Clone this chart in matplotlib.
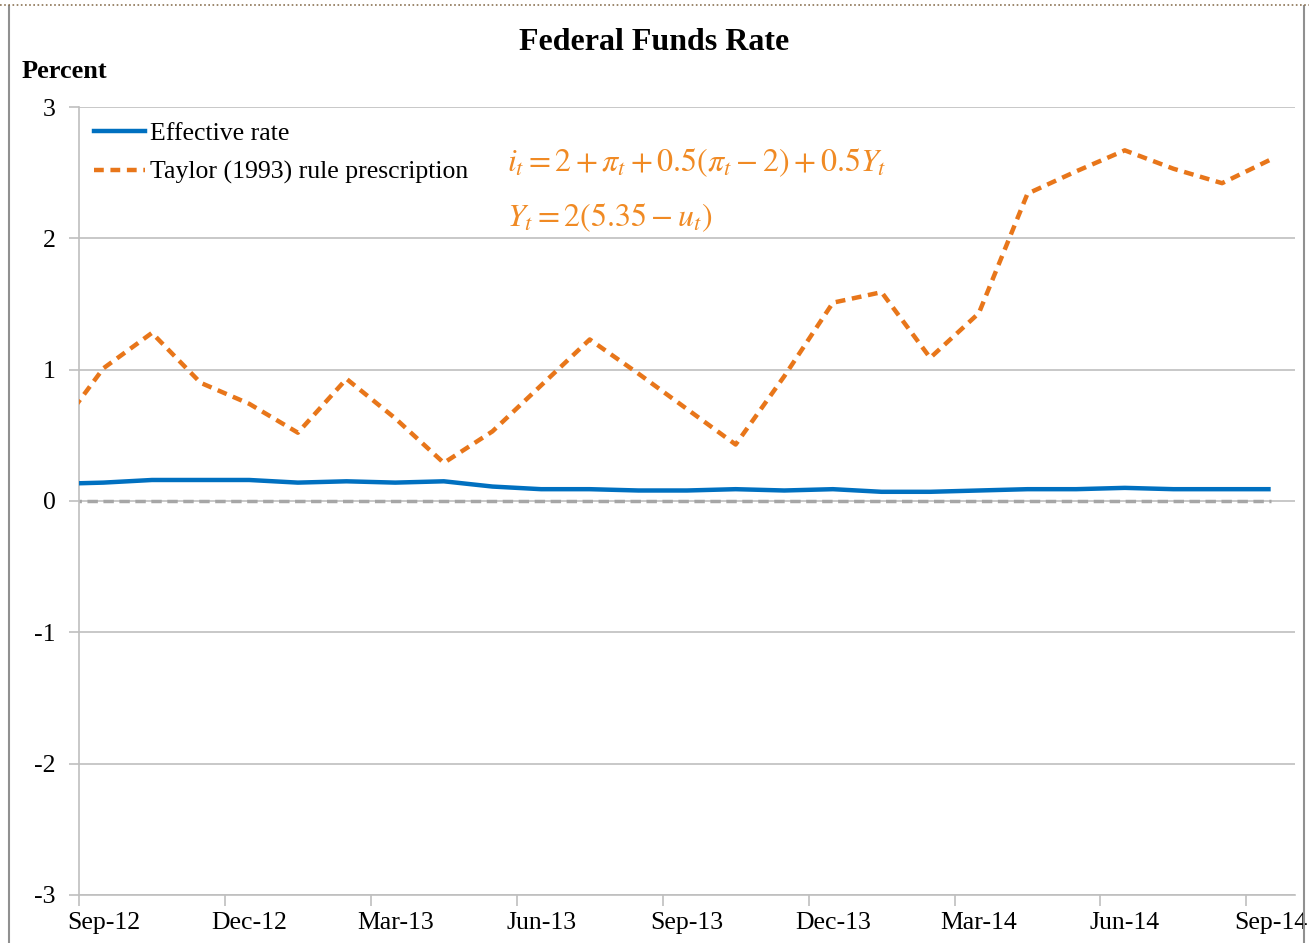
import matplotlib

matplotlib.use("Agg")
import matplotlib.pyplot as plt
from matplotlib.lines import Line2D
import numpy as np

# monthly data, Aug-12 .. Sep-14 (Aug-12 sits left of the axis and is clipped)
months = ["Aug-12", "Sep-12", "Oct-12", "Nov-12", "Dec-12", "Jan-13", "Feb-13",
          "Mar-13", "Apr-13", "May-13", "Jun-13", "Jul-13", "Aug-13", "Sep-13",
          "Oct-13", "Nov-13", "Dec-13", "Jan-14", "Feb-14", "Mar-14", "Apr-14",
          "May-14", "Jun-14", "Jul-14", "Aug-14", "Sep-14"]
effective = [0.13, 0.14, 0.16, 0.16, 0.16, 0.14, 0.15, 0.14, 0.15, 0.11, 0.09,
             0.09, 0.08, 0.08, 0.09, 0.08, 0.09, 0.07, 0.07, 0.08, 0.09, 0.09,
             0.10, 0.09, 0.09, 0.09]
taylor = [0.51, 1.01, 1.28, 0.90, 0.74, 0.52, 0.93, 0.63, 0.29, 0.53, 0.88,
          1.23, 0.97, 0.70, 0.43, 0.95, 1.51, 1.59, 1.09, 1.43, 2.34, 2.51,
          2.67, 2.53, 2.42, 2.60]
zero_line = [0.0] * len(months)
tick_labels = ["Sep-12", "Dec-12", "Mar-13", "Jun-13", "Sep-13", "Dec-13",
               "Mar-14", "Jun-14", "Sep-14"]

plt.rcParams["font.family"] = ["Liberation Serif", "DejaVu Serif"]
plt.rcParams["mathtext.fontset"] = "stix"

BLUE = "#0070C0"
ORANGE = "#E8761A"
GRID = "#BFBFBF"

fig = plt.figure(figsize=(13.09, 9.43), dpi=100)
ax = fig.add_axes([79 / 1309, 1 - 895 / 943, (1295 - 79) / 1309, (895 - 107) / 943])

x = np.arange(len(months)) - 1  # Sep-12 at 0
ax.plot(x, zero_line, color="#A6A6A6", lw=2.5, ls=(0, (3, 1.6)), zorder=2)
ax.plot(x, effective, color=BLUE, lw=3.2, solid_capstyle="butt", zorder=4)
ax.plot(x, taylor, color=ORANGE, lw=3.2, ls=(0, (2.2, 1.5)), zorder=3)

ax.set_xlim(-0.5, 24.5)
ax.set_ylim(-3, 3)
ax.set_yticks(np.arange(-3, 4))
ax.set_yticklabels(["-3", "-2", "-1", "0", "1", "2", "3"])
ax.yaxis.grid(True, color=GRID, lw=1.2)
ax.set_axisbelow(True)

# ticks at category boundaries, labels at category centres
ax.set_xticks(np.arange(-0.5, 24, 3))
ax.set_xticklabels([])
ax.set_xticks(np.arange(0, 25, 3), minor=True)
ax.set_xticklabels(tick_labels, minor=True)
ax.tick_params(axis="x", which="major", length=8, color=GRID, width=1.2)
ax.tick_params(axis="x", which="minor", length=0, pad=12, labelsize=18.5)
ax.tick_params(axis="y", length=7, color=GRID, width=1.2, labelsize=18.5, pad=10)

for side in ["top", "right"]:
    ax.spines[side].set_visible(False)
for side in ["left", "bottom"]:
    ax.spines[side].set_color(GRID)
    ax.spines[side].set_linewidth(1.2)

handles = [Line2D([], [], color=BLUE, lw=3.2),
           Line2D([], [], color=ORANGE, lw=3.2, ls=(0, (2.2, 1.5)))]
ax.legend(handles, ["Effective rate", "Taylor (1993) rule prescription"],
          loc="upper left", bbox_to_anchor=(-0.007, 1.01), frameon=False,
          fontsize=18.5, handlelength=2.0, handletextpad=0.2, labelspacing=0.6)

ax.text(0.352, 0.929,
        r"$i_t = 2 + \pi_t + 0.5\left(\pi_t - 2\right) + 0.5Y_t$",
        transform=ax.transAxes, color="#F08A24", fontsize=23, va="center")
ax.text(0.352, 0.860, r"$Y_t = 2\left(5.35 - u_t\right)$",
        transform=ax.transAxes, color="#F08A24", fontsize=23, va="center")

fig.text(0.5, 1 - 42 / 943, "Federal Funds Rate", ha="center", va="center",
         fontsize=23, fontweight="bold")
fig.text(22 / 1309, 1 - 71 / 943, "Percent", ha="left", va="center",
         fontsize=19, fontweight="bold")

# chart border
fig.add_artist(Line2D([9 / 1309, 9 / 1309], [0, 1 - 6 / 943],
                      transform=fig.transFigure, color="#909090", lw=1.5))
fig.add_artist(Line2D([1304 / 1309, 1304 / 1309], [0, 1 - 6 / 943],
                      transform=fig.transFigure, color="#909090", lw=1.5))
fig.add_artist(Line2D([0, 1], [1 - 5 / 943, 1 - 5 / 943],
                      transform=fig.transFigure, color="#8B7355", lw=1.2,
                      ls=(0, (1, 1.5))))

fig.savefig("out.png", dpi=100)
